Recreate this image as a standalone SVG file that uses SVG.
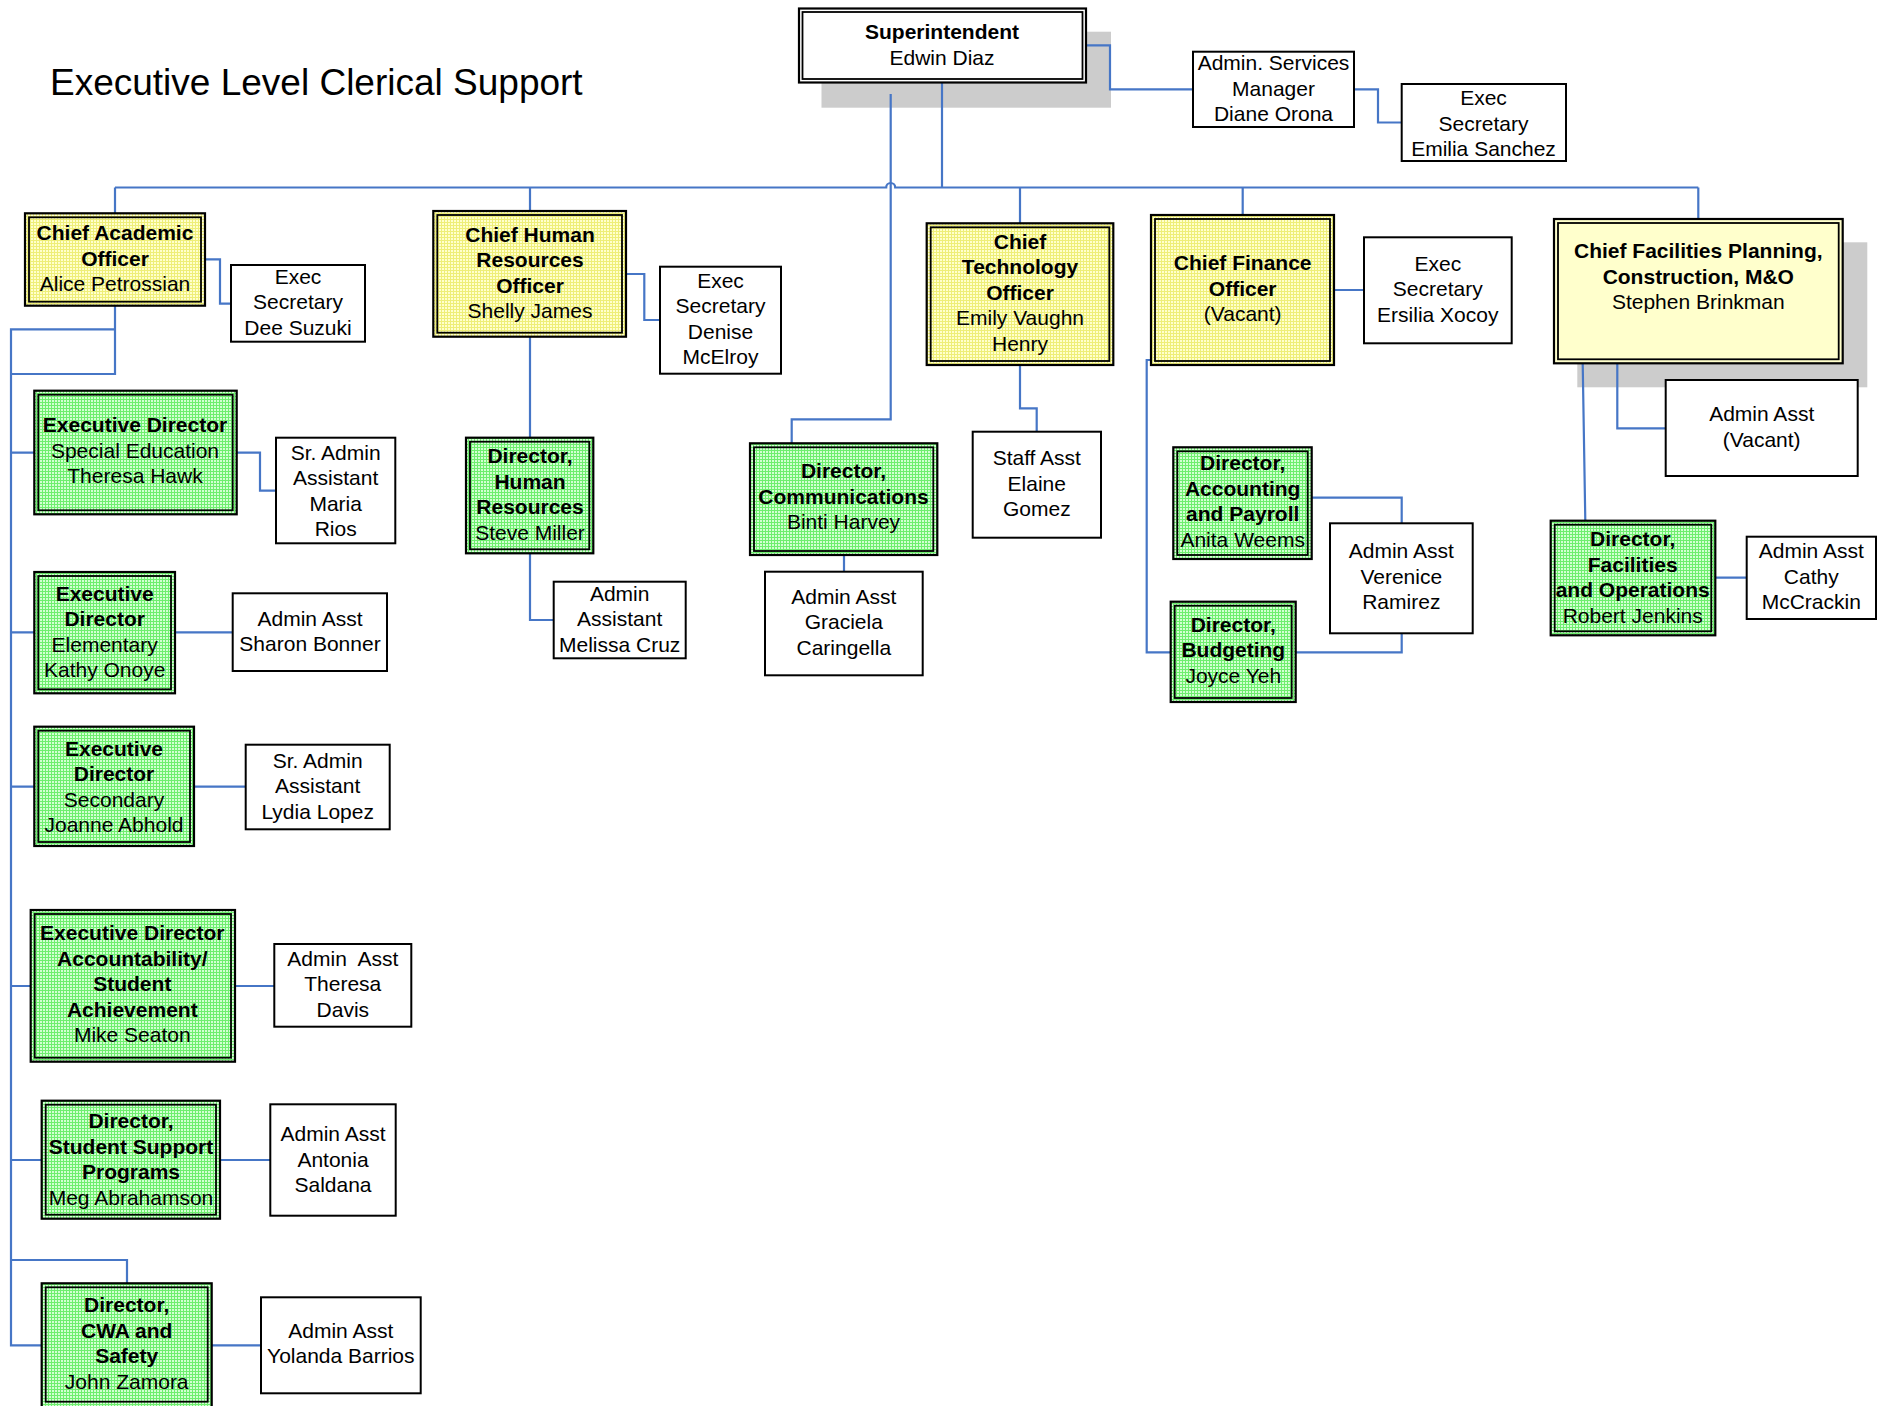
<svg xmlns="http://www.w3.org/2000/svg" width="1885" height="1406" viewBox="0 0 1885 1406">
<defs>
<pattern id="pg" patternUnits="userSpaceOnUse" width="3" height="3"><rect width="3" height="3" fill="#D2FFD2"/><path d="M0,0.5H3M0.5,0V3" stroke="#6EEE6E" stroke-width="1"/></pattern>
<pattern id="py" patternUnits="userSpaceOnUse" width="3" height="3"><rect width="3" height="3" fill="#FFFFCC"/><path d="M0,0.5H3M0.5,0V3" stroke="#EEEE78" stroke-width="1"/></pattern>
</defs>
<style>
text{font-family:"Liberation Sans",Arial,sans-serif;font-size:21px;fill:#000;text-anchor:middle}
.b{font-weight:bold}
.title{font-size:37px;text-anchor:start}
.box{fill:#fff;stroke:#000;stroke-width:2}
.out{stroke:#000;stroke-width:2.2}
.in{fill:none;stroke:#000;stroke-width:1.8}
.gr{fill:url(#pg)}
.ye{fill:url(#py)}
.pale{fill:#FFFFCC}
.sh{fill:#CCCCCC}
.cn path{fill:none;stroke:#4676C6;stroke-width:2.2}
</style>
<rect width="1885" height="1406" fill="#fff"/>
<text class="title" x="50" y="95">Executive Level Clerical Support</text>
<rect class="sh" x="821.5" y="31.7" width="289.5" height="76"/>
<rect class="sh" x="1577.3" y="242.3" width="290" height="145"/>
<g class="cn" id="connectors">
<path d="M1086,45.3H1110V89.3H1193"/>
<path d="M1354,89.3H1378V122.5H1401.7"/>
<path d="M942,83V187.5"/>
<path d="M115,187.5H886.2A4.5,4.5 0 0 1 895.2,187.5H1698.3"/>
<path d="M890.7,94V419.3H791.7V443.3"/>
<path d="M115,187.5V213.3M530,187.5V211M1020,187.5V223.3M1242.7,187.5V215M1698.3,187.5V219"/>
<path d="M205,259.3H220V303.7H231"/>
<path d="M115,305.7V374H11M115,329.3H11V1345.3H41.7"/>
<path d="M11,452.7H34.3M11,632.3H34.3M11,786.7H34.3M11,986H30.7M11,1160H41.7M11,1260H127V1283.3"/>
<path d="M236.7,452.7H260V490.7H276M175,632.3H232.7M194,786.7H245.7M235,986H274.3M220,1160H270.3M211.7,1345.3H261"/>
<path d="M626,274H644.3V320H660M530,336.7V437.7M530,553.3V620H553.7"/>
<path d="M844,555V571.7"/>
<path d="M1020,365V408.3H1036.7V431.7"/>
<path d="M1334,290H1364M1165,360H1146.7V652.3H1170.7"/>
<path d="M1297.7,474V497.7H1401.7V523.3M1401.7,633.3V652.3H1295.7"/>
<path d="M1617.3,363.3V428.3H1665.7M1582.7,363.3L1585.3,520.7M1715.3,577.7H1746.7"/>
</g>
<g id="superintendent"><rect class="out" fill="#fff" x="799" y="8.5" width="287" height="74"/><rect class="in" x="802.5" y="12" width="280" height="67" stroke-width="1.4"/><text><tspan class="b" x="942" y="38.5">Superintendent</tspan><tspan x="942" y="64.5">Edwin Diaz</tspan></text></g>
<g id="admin-services"><rect class="box" x="1193" y="51.7" width="161" height="75.3"/><text><tspan x="1273.5" y="70">Admin. Services</tspan><tspan x="1273.5" y="95.5">Manager</tspan><tspan x="1273.5" y="121">Diane Orona</tspan></text></g>
<g id="emilia"><rect class="box" x="1401.7" y="84" width="164.3" height="77"/><text><tspan x="1483.5" y="105">Exec</tspan><tspan x="1483.5" y="130.5">Secretary</tspan><tspan x="1483.5" y="156">Emilia Sanchez</tspan></text></g>
<g id="chief-academic"><rect class="out ye" x="25" y="213.3" width="180" height="92.4"/><rect class="in" x="29" y="217.3" width="172" height="84.4"/><text><tspan class="b" x="115" y="240">Chief Academic</tspan><tspan class="b" x="115" y="265.5">Officer</tspan><tspan x="115" y="291">Alice Petrossian</tspan></text></g>
<g id="dee"><rect class="box" x="231" y="265" width="134" height="76.7"/><text><tspan x="298" y="283.5">Exec</tspan><tspan x="298" y="309">Secretary</tspan><tspan x="298" y="334.5">Dee Suzuki</tspan></text></g>
<g id="chief-hr"><rect class="out ye" x="433.3" y="211" width="192.7" height="125.7"/><rect class="in" x="437.3" y="215" width="184.7" height="117.7"/><text><tspan class="b" x="530" y="241.7">Chief Human</tspan><tspan class="b" x="530" y="267.2">Resources</tspan><tspan class="b" x="530" y="292.7">Officer</tspan><tspan x="530" y="318.2">Shelly James</tspan></text></g>
<g id="denise"><rect class="box" x="660" y="266.7" width="121" height="107"/><text><tspan x="720.5" y="287.5">Exec</tspan><tspan x="720.5" y="313">Secretary</tspan><tspan x="720.5" y="338.5">Denise</tspan><tspan x="720.5" y="364">McElroy</tspan></text></g>
<g id="dir-hr"><rect class="out gr" x="466" y="437.7" width="127.3" height="115.6"/><rect class="in" x="470" y="441.7" width="119.3" height="107.6"/><text><tspan class="b" x="530" y="463.3">Director,</tspan><tspan class="b" x="530" y="488.8">Human</tspan><tspan class="b" x="530" y="514.3">Resources</tspan><tspan x="530" y="539.8">Steve Miller</tspan></text></g>
<g id="melissa"><rect class="box" x="553.7" y="581.7" width="132" height="76.6"/><text><tspan x="619.7" y="600.5">Admin</tspan><tspan x="619.7" y="626">Assistant</tspan><tspan x="619.7" y="651.5">Melissa Cruz</tspan></text></g>
<g id="dir-comms"><rect class="out gr" x="750" y="443.3" width="187.3" height="111.7"/><rect class="in" x="754" y="447.3" width="179.3" height="103.7"/><text><tspan class="b" x="843.5" y="478.3">Director,</tspan><tspan class="b" x="843.5" y="503.8">Communications</tspan><tspan x="843.5" y="529.3">Binti Harvey</tspan></text></g>
<g id="graciela"><rect class="box" x="765" y="571.7" width="157.7" height="103.6"/><text><tspan x="843.8" y="603.5">Admin Asst</tspan><tspan x="843.8" y="629">Graciela</tspan><tspan x="843.8" y="654.5">Caringella</tspan></text></g>
<g id="chief-tech"><rect class="out ye" x="926.7" y="223.3" width="186.6" height="141.7"/><rect class="in" x="930.7" y="227.3" width="178.6" height="133.7"/><text><tspan class="b" x="1020" y="248.5">Chief</tspan><tspan class="b" x="1020" y="274">Technology</tspan><tspan class="b" x="1020" y="299.5">Officer</tspan><tspan x="1020" y="325">Emily Vaughn</tspan><tspan x="1020" y="350.5">Henry</tspan></text></g>
<g id="elaine"><rect class="box" x="972.7" y="431.7" width="128.3" height="106"/><text><tspan x="1036.8" y="465">Staff Asst</tspan><tspan x="1036.8" y="490.5">Elaine</tspan><tspan x="1036.8" y="516">Gomez</tspan></text></g>
<g id="chief-finance"><rect class="out ye" x="1151" y="215" width="183" height="150"/><rect class="in" x="1155" y="219" width="175" height="142"/><text><tspan class="b" x="1242.7" y="270">Chief Finance</tspan><tspan class="b" x="1242.7" y="295.5">Officer</tspan><tspan x="1242.7" y="321">(Vacant)</tspan></text></g>
<g id="ersilia"><rect class="box" x="1364" y="237.3" width="147.7" height="106"/><text><tspan x="1437.8" y="270.7">Exec</tspan><tspan x="1437.8" y="296.2">Secretary</tspan><tspan x="1437.8" y="321.7">Ersilia Xocoy</tspan></text></g>
<g id="dir-accounting"><rect class="out gr" x="1173.3" y="447.3" width="138.4" height="111.7"/><rect class="in" x="1177.3" y="451.3" width="130.4" height="103.7"/><text><tspan class="b" x="1242.7" y="470">Director,</tspan><tspan class="b" x="1242.7" y="495.5">Accounting</tspan><tspan class="b" x="1242.7" y="521">and Payroll</tspan><tspan x="1242.7" y="546.5">Anita Weems</tspan></text></g>
<g id="verenice"><rect class="box" x="1330" y="523.3" width="142.7" height="110"/><text><tspan x="1401.3" y="558.3">Admin Asst</tspan><tspan x="1401.3" y="583.8">Verenice</tspan><tspan x="1401.3" y="609.3">Ramirez</tspan></text></g>
<g id="dir-budgeting"><rect class="out gr" x="1170.7" y="601.7" width="125" height="100.3"/><rect class="in" x="1174.7" y="605.7" width="117" height="92.3"/><text><tspan class="b" x="1233.3" y="631.7">Director,</tspan><tspan class="b" x="1233.3" y="657.2">Budgeting</tspan><tspan x="1233.3" y="682.7">Joyce Yeh</tspan></text></g>
<g id="chief-facilities"><rect class="out pale" x="1554" y="219" width="288.7" height="144.3"/><rect class="in" x="1558" y="223" width="280.7" height="136.3"/><text><tspan class="b" x="1698.3" y="258.3">Chief Facilities Planning,</tspan><tspan class="b" x="1698.3" y="283.8">Construction, M&amp;O</tspan><tspan x="1698.3" y="309.3">Stephen Brinkman</tspan></text></g>
<g id="admin-vacant"><rect class="box" x="1665.7" y="380" width="192" height="96"/><text><tspan x="1761.7" y="421">Admin Asst</tspan><tspan x="1761.7" y="446.5">(Vacant)</tspan></text></g>
<g id="dir-facilities"><rect class="out gr" x="1550.7" y="520.7" width="164.6" height="114.6"/><rect class="in" x="1554.7" y="524.7" width="156.6" height="106.6"/><text><tspan class="b" x="1632.7" y="546">Director,</tspan><tspan class="b" x="1632.7" y="571.5">Facilities</tspan><tspan class="b" x="1632.7" y="597">and Operations</tspan><tspan x="1632.7" y="622.5">Robert Jenkins</tspan></text></g>
<g id="cathy"><rect class="box" x="1746.7" y="536.7" width="129.3" height="82.3"/><text><tspan x="1811.3" y="558.3">Admin Asst</tspan><tspan x="1811.3" y="583.8">Cathy</tspan><tspan x="1811.3" y="609.3">McCrackin</tspan></text></g>
<g id="exec-special-ed"><rect class="out gr" x="34.3" y="390.7" width="202.4" height="123.6"/><rect class="in" x="38.3" y="394.7" width="194.4" height="115.6"/><text><tspan class="b" x="135" y="432.3">Executive Director</tspan><tspan x="135" y="457.8">Special Education</tspan><tspan x="135" y="483.3">Theresa Hawk</tspan></text></g>
<g id="maria"><rect class="box" x="276" y="437.7" width="119.3" height="105.6"/><text><tspan x="335.7" y="459.5">Sr. Admin</tspan><tspan x="335.7" y="485">Assistant</tspan><tspan x="335.7" y="510.5">Maria</tspan><tspan x="335.7" y="536">Rios</tspan></text></g>
<g id="exec-elementary"><rect class="out gr" x="34.3" y="572" width="140.7" height="121.3"/><rect class="in" x="38.3" y="576" width="132.7" height="113.3"/><text><tspan class="b" x="104.7" y="600.7">Executive</tspan><tspan class="b" x="104.7" y="626.2">Director</tspan><tspan x="104.7" y="651.7">Elementary</tspan><tspan x="104.7" y="677.2">Kathy Onoye</tspan></text></g>
<g id="sharon"><rect class="box" x="232.7" y="593.3" width="154.3" height="77.7"/><text><tspan x="310" y="625.7">Admin Asst</tspan><tspan x="310" y="651.2">Sharon Bonner</tspan></text></g>
<g id="exec-secondary"><rect class="out gr" x="34.3" y="726.7" width="159.7" height="119.3"/><rect class="in" x="38.3" y="730.7" width="151.7" height="111.3"/><text><tspan class="b" x="114" y="755.5">Executive</tspan><tspan class="b" x="114" y="781">Director</tspan><tspan x="114" y="806.5">Secondary</tspan><tspan x="114" y="832">Joanne Abhold</tspan></text></g>
<g id="lydia"><rect class="box" x="245.7" y="744.7" width="144" height="84.6"/><text><tspan x="317.7" y="767.7">Sr. Admin</tspan><tspan x="317.7" y="793.2">Assistant</tspan><tspan x="317.7" y="818.7">Lydia Lopez</tspan></text></g>
<g id="exec-accountability"><rect class="out gr" x="30.7" y="910" width="204.3" height="151.7"/><rect class="in" x="34.7" y="914" width="196.3" height="143.7"/><text><tspan class="b" x="132.3" y="940">Executive Director</tspan><tspan class="b" x="132.3" y="965.5">Accountability/</tspan><tspan class="b" x="132.3" y="991">Student</tspan><tspan class="b" x="132.3" y="1016.5">Achievement</tspan><tspan x="132.3" y="1042">Mike Seaton</tspan></text></g>
<g id="theresa-davis"><rect class="box" x="274.3" y="944" width="137" height="82.7"/><text xml:space="preserve"><tspan x="342.8" y="965.7">Admin  Asst</tspan><tspan x="342.8" y="991.2">Theresa</tspan><tspan x="342.8" y="1016.7">Davis</tspan></text></g>
<g id="dir-student-support"><rect class="out gr" x="41.7" y="1100.7" width="178.3" height="118"/><rect class="in" x="45.7" y="1104.7" width="170.3" height="110"/><text><tspan class="b" x="131" y="1128.3">Director,</tspan><tspan class="b" x="131" y="1153.8">Student Support</tspan><tspan class="b" x="131" y="1179.3">Programs</tspan><tspan x="131" y="1204.8">Meg Abrahamson</tspan></text></g>
<g id="antonia"><rect class="box" x="270.3" y="1104.3" width="125.4" height="111.4"/><text><tspan x="333" y="1141">Admin Asst</tspan><tspan x="333" y="1166.5">Antonia</tspan><tspan x="333" y="1192">Saldana</tspan></text></g>
<g id="dir-cwa"><rect class="out gr" x="41.7" y="1283.3" width="170" height="126"/><rect class="in" x="45.7" y="1287.3" width="162" height="114.4"/><text><tspan class="b" x="126.7" y="1312.3">Director,</tspan><tspan class="b" x="126.7" y="1337.8">CWA and</tspan><tspan class="b" x="126.7" y="1363.3">Safety</tspan><tspan x="126.7" y="1388.8">John Zamora</tspan></text></g>
<g id="yolanda"><rect class="box" x="261" y="1297.3" width="159.7" height="96"/><text><tspan x="340.8" y="1337.7">Admin Asst</tspan><tspan x="340.8" y="1363.2">Yolanda Barrios</tspan></text></g>
</svg>
